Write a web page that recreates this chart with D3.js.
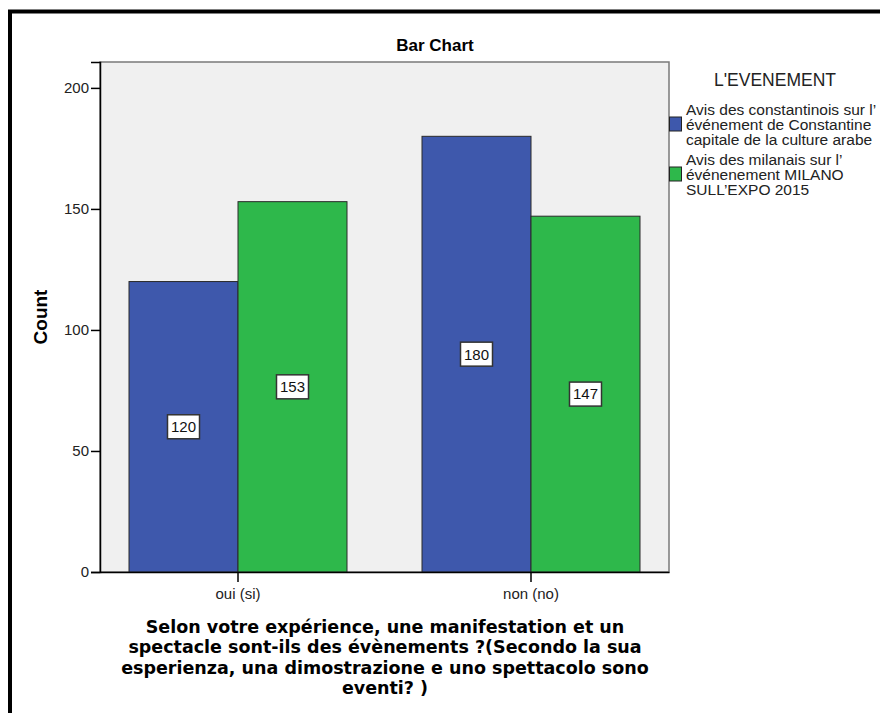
<!DOCTYPE html>
<html>
  <head>
    <meta charset="UTF-8" />
    <style>
      body { margin: 0; background: #fff; }
      svg { display: block; }
      text { font-family: "Liberation Sans", Arial, sans-serif; }
    </style>
  </head>
  <body>
    <svg></svg>
    <script src="https://d3js.org/d3.v7.min.js"></script>
    <script>
      const categories = ["oui (si)", "non (no)"];
      const seriesNames = [
        ["Avis des constantinois sur l\u2019", "événement de Constantine", "capitale de la culture arabe"],
        ["Avis des milanais sur l\u2019", "événenement MILANO", "SULL\u2019EXPO 2015"]
      ];
      const constantine = [120, 180];
      const milano = [153, 147];
      const yTicks = [0, 50, 100, 150, 200];
      const xTitle = [
        "Selon votre expérience, une manifestation et un",
        "spectacle sont-ils des évènements ?(Secondo la sua",
        "esperienza, una dimostrazione e uno spettacolo sono",
        "eventi? )"
      ];
      const colors = ["#3e58ac", "#2eb84b"];

      const width = 880, height = 713;
      const svg = d3.select("svg").attr("width", width).attr("height", height);

      // outer frame (right/bottom edges fall outside the picture)
      svg.append("rect")
        .attr("x", 10).attr("y", 11.5)
        .attr("width", 900).attr("height", 800)
        .attr("fill", "none").attr("stroke", "#000").attr("stroke-width", 4);

      const plot = { left: 100, right: 669, top: 62, bottom: 572 };

      const y = d3.scaleLinear()
        .domain([0, 210.7])
        .range([plot.bottom, plot.top]);

      const x0 = d3.scaleBand()
        .domain(categories)
        .range([plot.left, plot.right])
        .paddingInner(0.256)
        .paddingOuter(0.099);

      const x1 = d3.scaleBand()
        .domain([0, 1])
        .range([0, x0.bandwidth()]);

      // plot background
      svg.append("rect")
        .attr("x", plot.left).attr("y", plot.top)
        .attr("width", plot.right - plot.left)
        .attr("height", plot.bottom - plot.top)
        .attr("fill", "#f0f0f0")
        .attr("stroke", "#7a7a7a").attr("stroke-width", 1.5);

      const rows = categories.map((c, i) => ({ cat: c, vals: [constantine[i], milano[i]] }));

      const groups = svg.append("g").selectAll("g")
        .data(rows)
        .join("g")
        .attr("transform", d => "translate(" + x0(d.cat) + ",0)");

      groups.selectAll("rect")
        .data(d => d.vals.map((v, k) => ({ k: k, v: v })))
        .join("rect")
        .attr("x", d => x1(d.k))
        .attr("y", d => y(d.v))
        .attr("width", x1.bandwidth())
        .attr("height", d => y(0) - y(d.v))
        .attr("fill", d => colors[d.k])
        .attr("stroke", "#2a2a2a")
        .attr("stroke-width", 1);

      // value labels
      const lab = groups.selectAll("g.lab")
        .data(d => d.vals.map((v, k) => ({ k: k, v: v })))
        .join("g")
        .attr("class", "lab")
        .attr("transform", d => "translate(" + (x1(d.k) + x1.bandwidth() / 2) + "," + y(d.v / 2) + ")");
      lab.append("rect")
        .attr("x", -16).attr("y", -12)
        .attr("width", 32).attr("height", 24)
        .attr("fill", "#fff")
        .attr("stroke", "#333").attr("stroke-width", 1.5);
      lab.append("text")
        .attr("text-anchor", "middle")
        .attr("dy", "0.36em")
        .attr("font-size", 15)
        .attr("fill", "#111")
        .text(d => d.v);

      // y axis
      const yAxis = svg.append("g")
        .attr("transform", "translate(" + plot.left + ",0)")
        .call(d3.axisLeft(y).tickValues(yTicks).tickSize(9).tickPadding(2));
      yAxis.select(".domain").attr("stroke", "#000").attr("stroke-width", 1.5);
      yAxis.selectAll(".tick line").attr("stroke", "#000").attr("stroke-width", 1.5);
      yAxis.selectAll(".tick text")
        .attr("font-size", 15).attr("fill", "#222")
        .style("font-family", "'Liberation Sans', Arial, sans-serif");

      // x axis
      const xAxis = svg.append("g")
        .attr("transform", "translate(0," + plot.bottom + ")")
        .call(d3.axisBottom(x0).tickSize(10).tickPadding(6).tickSizeOuter(0));
      xAxis.select(".domain").attr("stroke", "#000").attr("stroke-width", 1.5);
      xAxis.selectAll(".tick line").attr("stroke", "#000").attr("stroke-width", 1.5);
      xAxis.selectAll(".tick text")
        .attr("font-size", 15).attr("fill", "#222")
        .style("font-family", "'Liberation Sans', Arial, sans-serif");

      // titles
      svg.append("text")
        .attr("x", 435).attr("y", 51)
        .attr("text-anchor", "middle")
        .attr("font-size", 17).attr("font-weight", "bold")
        .text("Bar Chart");

      svg.append("text")
        .attr("transform", "translate(47,317) rotate(-90)")
        .attr("text-anchor", "middle")
        .attr("font-size", 19).attr("font-weight", "bold")
        .text("Count");

      svg.append("g").selectAll("text")
        .data(xTitle)
        .join("text")
        .attr("x", 385)
        .attr("y", (d, i) => 633 + i * 20.3)
        .attr("text-anchor", "middle")
        .attr("font-size", 17.5).attr("font-weight", "bold")
        .style("font-family", "'DejaVu Sans', sans-serif")
        .text(d => d);

      // legend
      svg.append("text")
        .attr("x", 775).attr("y", 86)
        .attr("text-anchor", "middle")
        .attr("font-size", 17.5).attr("fill", "#222")
        .text("L'EVENEMENT");

      const leg = svg.append("g").selectAll("g")
        .data(seriesNames)
        .join("g")
        .attr("transform", (d, i) => "translate(669," + (110 + i * 50) + ")");
      leg.append("rect")
        .attr("x", 0.5).attr("y", 7)
        .attr("width", 12).attr("height", 14)
        .attr("fill", (d, i) => colors[i])
        .attr("stroke", "#222").attr("stroke-width", 1);
      leg.selectAll("text")
        .data(d => d)
        .join("text")
        .attr("x", 17)
        .attr("y", (d, i) => i * 15)
        .attr("dy", "0.35em")
        .attr("font-size", 15.5).attr("fill", "#222")
        .text(d => d);
    </script>
  </body>
</html>
